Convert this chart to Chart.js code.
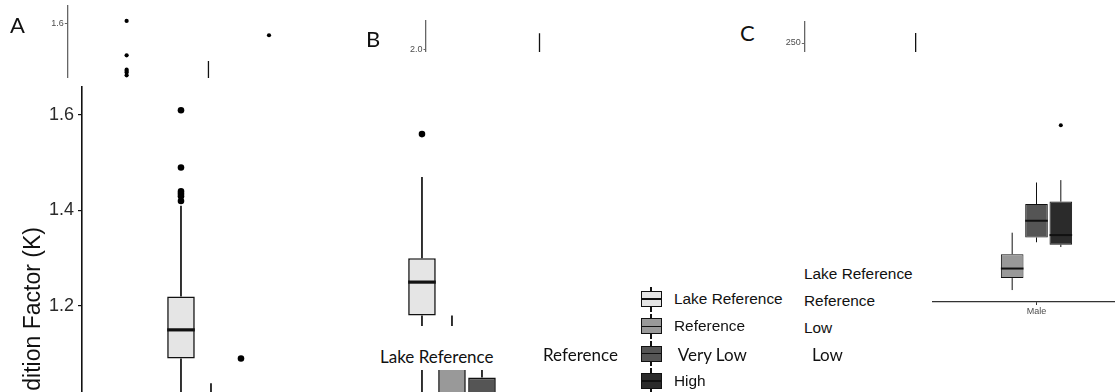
<!DOCTYPE html>
<html>
<head>
<meta charset="utf-8">
<script src="https://cdn.jsdelivr.net/npm/chart.js@4.4.0/dist/chart.umd.min.js"></script>
<style>
  html, body { margin: 0; padding: 0; width: 1115px; height: 392px; overflow: hidden; background: #fff; }
  .clip { position: absolute; overflow: hidden; }
  canvas { position: absolute; }
  .txt { position: absolute; white-space: pre; line-height: 1; transform: translateY(-50%); color: #111; }
  .sans { font-family: "Liberation Sans", Arial, sans-serif; font-size: 15.4px; }
  .cal { font-family: Lato, "Open Sans", sans-serif; }
  .band { position: absolute; left: 372px; top: 326px; width: 133px; height: 44px; background: #fff; }
  .key-box { position: absolute; width: 21px; height: 16px; box-sizing: border-box; border: 1.3px solid #111; }
  .key-box::after { content: ''; position: absolute; left: 0; right: 0; top: 50%; height: 1.6px; margin-top: -0.8px; background: #111; }
  .key-whisk { position: absolute; width: 1.3px; background: #111; }
</style>
</head>
<body>

<div class="clip" style="left:0;top:0;width:300px;height:78px"><canvas id="stripA" width="300" height="100"></canvas></div>
<div class="clip" style="left:380px;top:0;width:273px;height:52px"><canvas id="stripB" width="273" height="90"></canvas></div>
<div class="clip" style="left:760px;top:0;width:267px;height:52px"><canvas id="stripC" width="267" height="90"></canvas></div>

<canvas id="mainK" width="560" height="493" style="left:0;top:80px"></canvas>
<canvas id="maleK" width="209" height="259" style="left:932px;top:63px"></canvas>

<div class="band"></div>
<div id="texts"></div>

<script>
// treatments and groups
const treatments = ['Lake Reference', 'Reference', 'Very Low', 'High'];
const groups = ['Female', 'Male'];
const fills = ['#e5e5e5', '#999999', '#555555', '#2b2b2b'];

// main panel, per group: [lower whisker, Q1, median, Q3, upper whisker]
const lakeRefK = [[0.93, 1.09, 1.15, 1.22, 1.41], [0.98, 1.18, 1.25, 1.30, 1.47]];
const referenceK = [[0.80, 0.89, 0.93, 0.98, 1.038], [0.85, 0.95, 1.00, 1.10, 1.18]];
const veryLowK = [[0.78, 0.86, 0.90, 0.95, 1.00], [0.88, 0.96, 1.00, 1.05, 1.12]];
const highK = [[0.76, 0.84, 0.88, 0.93, 0.99], [0.80, 0.87, 0.92, 0.96, 0.99]];
const lakeRefOut = [[1.61, 1.49, 1.44, 1.435, 1.43, 1.42], [1.56]];
const referenceOut = [[], []];
const veryLowOut = [[1.09], []];
const highOut = [[], []];

// right panel, Male only
const maleLabels = ['Male'];
const maleRefK = [1.225, 1.25, 1.27, 1.30, 1.345];
const maleVeryLowK = [1.325, 1.335, 1.37, 1.405, 1.45];
const maleHighK = [1.315, 1.32, 1.34, 1.41, 1.455];
const maleHighOut = [1.57];

// top strips
const stripAOut = [1.61, 1.49, 1.44, 1.435, 1.43, 1.42];
const stripAWhisker = [1.47, 1.30];
const stripALone = [1.56];
const stripBWhisker = [2.16, 1.70];
const stripCWhisker = [260, 200];

// loose labels
const panelLetters = ['A', 'B', 'C'];
const sideColumn = ['Lake Reference', 'Reference', 'Low', 'Low'];
const bandLabel = 'Lake Reference';
const midLabel = 'Reference';

const SANS = '"Liberation Sans", Arial, sans-serif';

// no extra room for half tick labels above and below the axis
const noPad = s => { s.paddingTop = 0; s.paddingBottom = 0; };

// whiskers, medians and outliers on top of floating bars
const boxExtras = {
  id: 'boxExtras',
  afterDatasetsDraw(chart, args, opts) {
    const { ctx, chartArea, scales: { y } } = chart;
    ctx.save();
    ctx.beginPath();
    ctx.rect(chartArea.left, chartArea.top, chartArea.width, chartArea.height);
    ctx.clip();
    chart.data.datasets.forEach((ds, i) => {
      const meta = chart.getDatasetMeta(i);
      meta.data.forEach((bar, j) => {
        const s = ds.stats[j];
        if (!s) return;
        const x = bar.x, half = bar.width / 2;
        ctx.strokeStyle = '#111';
        ctx.lineWidth = opts.line;
        ctx.beginPath();
        ctx.moveTo(x, y.getPixelForValue(s[4]));
        ctx.lineTo(x, y.getPixelForValue(s[3]));
        ctx.moveTo(x, y.getPixelForValue(s[1]));
        ctx.lineTo(x, y.getPixelForValue(s[0]));
        ctx.stroke();
        ctx.lineWidth = opts.median;
        const m = y.getPixelForValue(s[2]);
        ctx.beginPath();
        ctx.moveTo(x - half, m);
        ctx.lineTo(x + half, m);
        ctx.stroke();
        ctx.fillStyle = '#000';
        (ds.outliers[j] || []).forEach(v => {
          ctx.beginPath();
          ctx.arc(x, y.getPixelForValue(v), opts.r, 0, Math.PI * 2);
          ctx.fill();
        });
      });
    });
    ctx.restore();
  }
};

const off = { legend: { display: false }, tooltip: { enabled: false } };

// main panel
const mainStats = [lakeRefK, referenceK, veryLowK, highK];
const mainOut = [lakeRefOut, referenceOut, veryLowOut, highOut];
new Chart(document.getElementById('mainK'), {
  type: 'bar',
  data: {
    datasets: treatments.map((t, i) => ({
      label: t,
      data: groups.map((g, j) => ({ x: j + 1, y: [mainStats[i][j][1], mainStats[i][j][3]] })),
      stats: mainStats[i],
      outliers: mainOut[i],
      backgroundColor: fills[i],
      borderColor: '#111',
      borderWidth: 1.6,
      borderSkipped: false,
      categoryPercentage: 0.498,
      barPercentage: 0.92
    }))
  },
  options: {
    responsive: false,
    animation: false,
    layout: { padding: { top: 7, left: 0, right: 0, bottom: 0 } },
    plugins: { ...off, boxExtras: { line: 1.7, median: 3.2, r: 3.3 } },
    scales: {
      x: { type: 'linear', display: false, offset: false, min: 0.4025, max: 2.386,
           ticks: { stepSize: 1, includeBounds: false } },
      y: {
        min: 0.6408, max: 1.6586,
        border: { display: true, color: '#111', width: 1.6 },
        grid: { drawOnChartArea: false, drawTicks: true, tickLength: 4, color: '#111', lineWidth: 1.2 },
        ticks: { stepSize: 0.2, includeBounds: false, padding: 4, color: '#2b2b2b',
                 font: { family: SANS, size: 18 }, callback: v => v.toFixed(1) },
        title: { display: true, text: 'Condition Factor (K)', color: '#111',
                 font: { family: SANS, size: 23 }, padding: { top: 20, bottom: 0 } },
        afterFit: s => { s.width = 82; noPad(s); }
      }
    }
  },
  plugins: [boxExtras]
});

// right panel (Male)
const maleStats = [maleRefK, maleVeryLowK, maleHighK];
const maleOut = [[], [], maleHighOut];
new Chart(document.getElementById('maleK'), {
  type: 'bar',
  data: {
    labels: maleLabels,
    datasets: treatments.slice(1).map((t, i) => ({
      label: t,
      data: [[maleStats[i][1], maleStats[i][3]]],
      stats: [maleStats[i]],
      outliers: [maleOut[i]],
      backgroundColor: fills[i + 1],
      borderColor: '#111',
      borderWidth: 1,
      borderSkipped: false,
      categoryPercentage: 0.349,
      barPercentage: 0.93
    }))
  },
  options: {
    responsive: false,
    animation: false,
    layout: { padding: 0 },
    plugins: { ...off, boxExtras: { line: 1, median: 2, r: 2 } },
    scales: {
      x: {
        border: { color: '#333', width: 1.2 },
        grid: { offset: false, drawOnChartArea: false, tickLength: 3, color: '#333' },
        ticks: { padding: 1, color: '#4d4d4d', font: { family: SANS, size: 9 } },
        afterFit: s => { s.height = 20; }
      },
      y: { display: false, min: 1.2, max: 1.7 }
    }
  },
  plugins: [boxExtras]
});

// small strips along the top
function stripAxis(min, max, step, width, fmt) {
  return {
    min, max,
    border: { display: true, color: '#666', width: 1.3 },
    grid: { drawOnChartArea: false, drawTicks: true, tickLength: 2.5, color: '#666' },
    ticks: { stepSize: step, includeBounds: false, padding: 1, color: '#4d4d4d',
             font: { family: SANS, size: 9 }, callback: fmt },
    afterFit: s => { s.width = width; noPad(s); }
  };
}
const dot = { pointRadius: 2.1, pointBackgroundColor: '#000', pointBorderWidth: 0, showLine: false };
const whisk = { showLine: true, borderColor: '#111', borderWidth: 1.3, pointRadius: 0 };

new Chart(document.getElementById('stripA'), {
  type: 'scatter',
  data: { datasets: [
    { data: stripAOut.map(v => ({ x: 1, y: v })), ...dot },
    { data: stripAWhisker.map(v => ({ x: 2, y: v })), ...whisk },
    { data: stripALone.map(v => ({ x: 2.74, y: v })), ...dot }
  ] },
  options: {
    responsive: false, animation: false,
    layout: { padding: { top: 6 } },
    plugins: off,
    scales: {
      x: { display: false, min: 0.275, max: 3.07 },
      y: stripAxis(1.348, 1.662, 0.2, 67.3, v => v.toFixed(1))
    }
  }
});

new Chart(document.getElementById('stripB'), {
  type: 'scatter',
  data: { datasets: [{ data: stripBWhisker.map(v => ({ x: 1, y: v })), ...whisk }] },
  options: {
    responsive: false, animation: false,
    layout: { padding: { top: 21 } },
    plugins: off,
    scales: {
      x: { display: false, min: 0, max: 2 },
      y: stripAxis(1.593, 2.283, 0.5, 46, v => v.toFixed(1))
    }
  }
});

new Chart(document.getElementById('stripC'), {
  type: 'scatter',
  data: { datasets: [{ data: stripCWhisker.map(v => ({ x: 1, y: v })), ...whisk }] },
  options: {
    responsive: false, animation: false,
    layout: { padding: { top: 22 } },
    plugins: off,
    scales: {
      x: { display: false, min: 0, max: 2 },
      y: stripAxis(203, 271, 50, 44.3, v => String(v))
    }
  }
});

// loose text and the box legend
const texts = document.getElementById('texts');
function put(str, cls, left, top, size) {
  const d = document.createElement('div');
  d.className = 'txt ' + cls;
  d.textContent = str;
  d.style.left = left + 'px';
  d.style.top = top + 'px';
  if (size) d.style.fontSize = size + 'px';
  texts.appendChild(d);
  return d;
}
const letterPos = [[10, 25], [366, 39], [740, 33]];
panelLetters.forEach((l, i) => put(l, 'cal', letterPos[i][0], letterPos[i][1], 22));

put(bandLabel, 'cal', 380, 356, 17);
put(midLabel, 'cal', 543, 354, 17);

sideColumn.forEach((s, i) => {
  if (i < 3) put(s, 'sans', 804, 274 + i * 27.2);
  else put(s, 'cal', 812, 354, 17);
});

treatments.forEach((t, i) => {
  const cy = 299 + i * 27.3;
  const w = document.createElement('div');
  w.className = 'key-whisk';
  w.style.left = '650.4px';
  w.style.top = (cy - 12.5) + 'px';
  w.style.height = '25px';
  texts.appendChild(w);
  const b = document.createElement('div');
  b.className = 'key-box';
  b.style.left = '641px';
  b.style.top = (cy - 8) + 'px';
  b.style.background = fills[i];
  texts.appendChild(b);
  if (t === 'Very Low') put(' ' + t, 'cal', 674, cy, 17);
  else put(t, 'sans', 674, cy);
});
</script>
</body>
</html>
